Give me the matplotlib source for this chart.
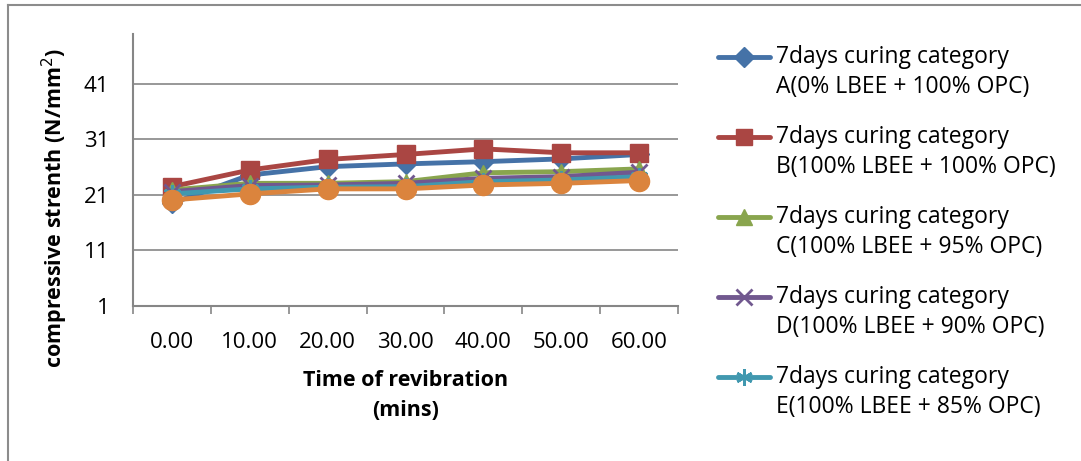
import matplotlib.pyplot as plt
from matplotlib.lines import Line2D

plt.rcParams['font.family'] = ['Open Sans', 'DejaVu Sans']

times = ["0.00", "10.00", "20.00", "30.00", "40.00", "50.00", "60.00"]

cat_a = [19.5, 24.6, 26.1, 26.6, 27.0, 27.5, 28.3]
cat_b = [22.5, 25.5, 27.4, 28.3, 29.3, 28.6, 28.6]
cat_c = [21.9, 23.1, 23.1, 23.4, 25.0, 25.2, 25.7]
cat_d = [21.6, 22.7, 22.8, 23.1, 24.0, 24.3, 25.1]
cat_e = [21.2, 22.1, 22.4, 22.5, 23.4, 23.7, 24.3]
cat_f = [20.1, 21.2, 22.1, 22.1, 22.8, 23.1, 23.6]

labels = [
    ("7days curing category", "A(0% LBEE + 100% OPC)"),
    ("7days curing category", "B(100% LBEE + 100% OPC)"),
    ("7days curing category", "C(100% LBEE + 95% OPC)"),
    ("7days curing category", "D(100% LBEE + 90% OPC)"),
    ("7days curing category", "E(100% LBEE + 85% OPC)"),
    None,
]

series = [cat_a, cat_b, cat_c, cat_d, cat_e, cat_f]
colors = ["#4572A7", "#AA4643", "#89A54E", "#71588F", "#4198AF", "#DB843D"]
markers = ["D", "s", "^", "x", (6, 2, 0), "o"]
msizes = [10, 13, 12, 12, 13, 14.5]

W, H = 1081, 461
fig = plt.figure(figsize=(W / 100, H / 100), dpi=100)
ax = fig.add_axes([133 / W, 1 - 306 / H, 545 / W, 272 / H])

x = list(range(len(times)))
for vals, c, m, ms in zip(series, colors, markers, msizes):
    mew = 2 if m in ("x", (6, 2, 0)) else 1
    ax.plot(x, vals, color=c, lw=3.5, marker=m, markersize=ms,
            markeredgecolor=c, markeredgewidth=mew, solid_capstyle="round")

ax.set_xlim(-0.5, len(times) - 0.5)
ax.set_ylim(1, 50)
ax.set_yticks([1, 11, 21, 31, 41])
ax.set_xticks(x)
ax.set_xticklabels(times)
ax.set_xticks([i - 0.5 for i in range(len(times) + 1)], minor=True)
ax.tick_params(axis="x", which="major", length=0, pad=19, labelsize=16)
ax.tick_params(axis="x", which="minor", length=6, color="#868686", width=1.2)
ax.tick_params(axis="y", length=0, pad=17, labelsize=16)

ax.grid(axis="y", color="#868686", lw=1.2)
ax.set_axisbelow(True)
for s in ["top", "right"]:
    ax.spines[s].set_visible(False)
for s in ["left", "bottom"]:
    ax.spines[s].set_color("#868686")
    ax.spines[s].set_linewidth(1.5)

ax.set_xlabel("Time of revibration\n(mins)", fontsize=15.5, fontweight="bold",
              labelpad=12, linespacing=1.55)
ax.set_ylabel("compressive strenth (N/mm$^2$)", fontsize=15.5, fontweight="bold")
ax.yaxis.set_label_coords(-0.115, 0.36)

# legend drawn by hand: handle sits on the first text line, like Excel
for i, (lab, c, m, ms) in enumerate(zip(labels, colors, markers, msizes)):
    if lab is None:
        continue
    y0 = 1 - (57 + 80 * i) / H
    y1 = 1 - (87 + 80 * i) / H
    mew = 2 if m in ("x", (6, 2, 0)) else 1
    fig.add_artist(Line2D([718 / W, 770 / W], [y0, y0], transform=fig.transFigure,
                          color=c, lw=3.5, solid_capstyle="round"))
    fig.add_artist(Line2D([744 / W], [y0], transform=fig.transFigure, color=c,
                          marker=m, markersize=min(ms, 12), markeredgecolor=c,
                          markeredgewidth=mew, lw=0))
    fig.text(776 / W, y0, lab[0], fontsize=16.5, va="center", ha="left")
    fig.text(776 / W, y1, lab[1], fontsize=16.5, va="center", ha="left")

# outer chart border
fig.add_artist(Line2D([8 / W, 8 / W], [0, 1 - 5 / H], transform=fig.transFigure,
                      color="#8c8c8c", lw=1.5))
fig.add_artist(Line2D([8 / W, 1], [1 - 5 / H, 1 - 5 / H], transform=fig.transFigure,
                      color="#8c8c8c", lw=1.5))

fig.savefig("out.png", dpi=100)
